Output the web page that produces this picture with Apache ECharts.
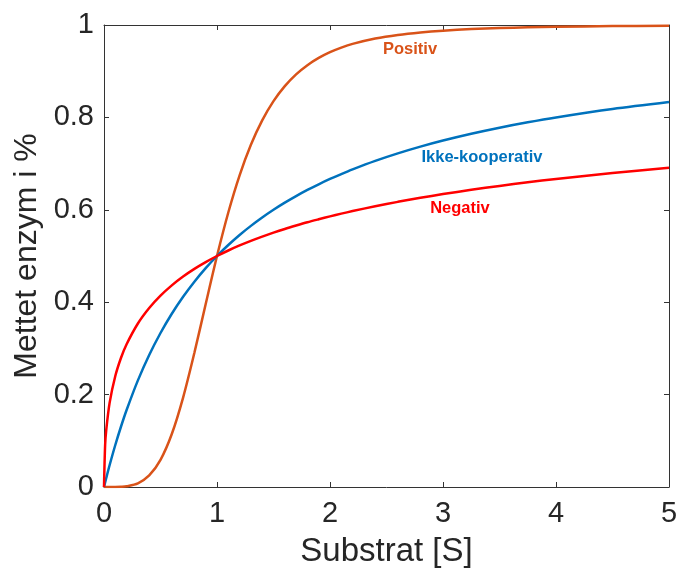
<!DOCTYPE html>
<html><head><meta charset="utf-8">
<script src="https://cdn.jsdelivr.net/npm/echarts@6/dist/echarts.min.js"></script>
<style>html,body{margin:0;padding:0;background:#fff}#c{width:682px;height:574px}</style>
</head><body><div id="c"></div>
<script>
const xs = [0, 0.01, 0.02, 0.05, 0.1, 0.15, 0.2, 0.3, 0.4, 0.5, 0.6, 0.7, 0.8, 0.9, 1.0, 1.1, 1.2, 1.3, 1.4, 1.5, 1.6, 1.7, 1.8, 1.9, 2.0, 2.1, 2.2, 2.4, 2.6, 2.8, 3.0, 3.25, 3.5, 3.75, 4.0, 4.5, 5.0];
const positiv = [0, 0, 0, 0.00001, 0.0001, 0.0005, 0.0016, 0.008, 0.025, 0.0588, 0.1147, 0.1936, 0.2906, 0.3962, 0.5, 0.5942, 0.6747, 0.7407, 0.7935, 0.8351, 0.8676, 0.8931, 0.913, 0.9287, 0.9412, 0.9511, 0.9591, 0.9707, 0.9786, 0.984, 0.9878, 0.9911, 0.9934, 0.995, 0.9961, 0.9976, 0.9984];
const ikke = [0, 0.0099, 0.0196, 0.0476, 0.0909, 0.1304, 0.1667, 0.2308, 0.2857, 0.3333, 0.375, 0.4118, 0.4444, 0.4737, 0.5, 0.5238, 0.5455, 0.5652, 0.5833, 0.6, 0.6154, 0.6296, 0.6429, 0.6552, 0.6667, 0.6774, 0.6875, 0.7059, 0.7222, 0.7368, 0.75, 0.7647, 0.7778, 0.7895, 0.8, 0.8182, 0.8333];
const negativ = [0, 0.0909, 0.1239, 0.1827, 0.2402, 0.2792, 0.309, 0.3539, 0.3874, 0.4142, 0.4365, 0.4555, 0.4721, 0.4868, 0.5, 0.5119, 0.5228, 0.5327, 0.5419, 0.5505, 0.5585, 0.5659, 0.573, 0.5795, 0.5858, 0.5917, 0.5972, 0.6077, 0.6172, 0.6259, 0.634, 0.6432, 0.6517, 0.6595, 0.6667, 0.6796, 0.691];
const seriesNames = ['Positiv', 'Ikke-kooperativ', 'Negativ'];
const labelPos = [[2.708, 0.948], [3.345, 0.714], [3.15, 0.602]];
const colors = ['#D95319', '#0072BD', '#FF0000'];

const font = 'Helvetica, Arial, "Liberation Sans", sans-serif';
const chart = echarts.init(document.getElementById('c'));
const pair = (ys) => xs.map((x, i) => [x, ys[i]]);
const mkSeries = (name, ys, idx) => ({
  name, type: 'line', data: pair(ys), showSymbol: false, smooth: 0.3,
  lineStyle: { width: 2.5, color: colors[idx] }, itemStyle: { color: colors[idx] },
  markPoint: {
    symbol: 'circle', symbolSize: 0, silent: true,
    data: [{ coord: labelPos[idx], value: name }],
    label: { show: true, position: 'inside', formatter: name, color: colors[idx], fontWeight: 'bold', fontSize: 16.5, fontFamily: font }
  }
});
const axisCommon = {
  axisLine: { show: true, onZero: false, lineStyle: { color: '#333333', width: 1 } },
  axisTick: { show: true, inside: true, length: 5, lineStyle: { color: '#333333' } },
  splitLine: { show: false }
};
chart.setOption({
  animation: false,
  grid: { left: 104, right: 13, top: 25, bottom: 87 },
  xAxis: [
    Object.assign({ type: 'value', min: 0, max: 5, interval: 1, position: 'bottom',
      name: 'Substrat [S]', nameLocation: 'middle', nameGap: 48,
      nameTextStyle: { fontSize: 33, color: '#262626', fontFamily: font },
      axisLabel: { fontSize: 29, color: '#262626', margin: 12, fontFamily: font } }, axisCommon),
    Object.assign({ type: 'value', min: 0, max: 5, interval: 1, position: 'top',
      axisLabel: { show: false } }, axisCommon)
  ],
  yAxis: [
    Object.assign({ type: 'value', min: 0, max: 1, interval: 0.2, position: 'left',
      name: 'Mettet enzym i %', nameLocation: 'middle', nameGap: 61,
      nameTextStyle: { fontSize: 32, color: '#262626', fontFamily: font },
      axisLabel: { fontSize: 29, color: '#262626', margin: 10, fontFamily: font,
        formatter: v => (Math.round(v * 10) / 10).toString() } }, axisCommon),
    Object.assign({ type: 'value', min: 0, max: 1, interval: 0.2, position: 'right',
      axisLabel: { show: false } }, axisCommon)
  ],
  series: [mkSeries(seriesNames[0], positiv, 0), mkSeries(seriesNames[1], ikke, 1), mkSeries(seriesNames[2], negativ, 2)]
});
</script></body></html>
